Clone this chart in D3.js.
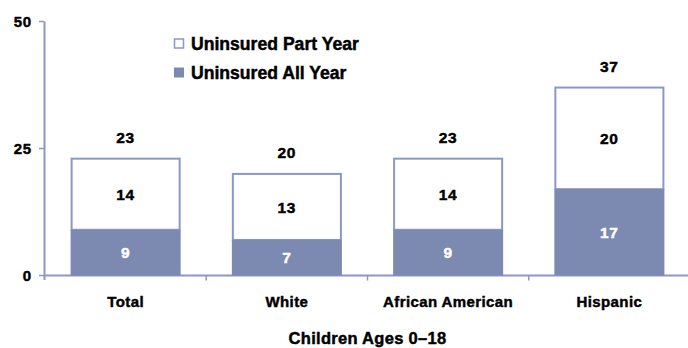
<!DOCTYPE html>
<html><head><meta charset="utf-8">
<script src="https://cdn.jsdelivr.net/npm/d3@7"></script>
<style>body{margin:0;background:#fff}svg{display:block}text{font-family:"Liberation Sans",Arial,sans-serif;font-weight:bold;fill:#000;stroke:#000;stroke-width:0.45px}</style>
</head><body><svg id="c" width="688" height="348"></svg>
<script>
const categories = ["Total","White","African American","Hispanic"];
const allYear = [9,7,9,17];
const partYear = [14,13,14,20];
const totals = [23,20,23,37];
const yTicks = [0,25,50];
const seriesNames = ["Uninsured Part Year","Uninsured All Year"];
const xTitle = "Children Ages 0\u201318";

const dark = "#7c89b0", edge = "#8a98c3";
const svg = d3.select("#c");
const x = d3.scaleBand().domain(categories).range([45,690]).paddingInner(0.33).paddingOuter(0.165);
const y = d3.scaleLinear().domain([0,50]).range([275.5,21.5]);

// axes
svg.append("line").attr("x1",44.5).attr("x2",44.5).attr("y1",y(50)).attr("y2",280).attr("stroke",edge).attr("stroke-width",2);
svg.append("line").attr("x1",44).attr("x2",688).attr("y1",y(0)).attr("y2",y(0)).attr("stroke",edge).attr("stroke-width",2);
yTicks.forEach(t=>{
  svg.append("line").attr("x1",39).attr("x2",44).attr("y1",y(t)).attr("y2",y(t)).attr("stroke",edge).attr("stroke-width",1.5);
  svg.append("text").attr("x",32).attr("y",y(t)).attr("dy","0.36em").attr("text-anchor","end").attr("font-size",15)
    .attr("letter-spacing",0.8).text(t);
});
const step = x.step();
categories.slice(1).forEach(c=>{
  const bx = x(c) - x.paddingInner()*step/2;
  svg.append("line").attr("x1",bx).attr("x2",bx).attr("y1",y(0)).attr("y2",y(0)+5).attr("stroke",edge).attr("stroke-width",1.5);
});

const g = svg.append("g");
function num(xc, yc, v, white){
  g.append("text").attr("x",xc).attr("y",yc).attr("dy","0.36em").attr("text-anchor","middle")
    .attr("font-size",15.5).attr("letter-spacing",0.8)
    .style("fill",white?"#fff":"#000").style("stroke",white?"#fff":"#000").text(v);
}
categories.forEach((c,i)=>{
  const x0 = x(c), w = x.bandwidth(), xc = x0+w/2;
  g.append("rect").attr("x",x0).attr("y",y(totals[i])).attr("width",w).attr("height",y(allYear[i])-y(totals[i]))
    .attr("fill","#fff").attr("stroke",edge).attr("stroke-width",2);
  g.append("rect").attr("x",x0-1).attr("y",y(allYear[i])).attr("width",w+2).attr("height",y(0)-y(allYear[i]))
    .attr("fill",dark);
  num(xc, (y(0)+y(allYear[i]))/2, allYear[i], true);
  num(xc, (y(allYear[i])+y(totals[i]))/2, partYear[i], false);
  num(xc, y(totals[i])-21, totals[i], false);
  g.append("text").attr("x",xc).attr("y",302).attr("dy","0.36em").attr("text-anchor","middle")
    .attr("font-size",15).attr("letter-spacing",0.4).text(c);
});

svg.append("text").attr("x",367.5).attr("y",344).attr("text-anchor","middle").attr("font-size",16.5)
  .attr("letter-spacing",0.3).text(xTitle);

// legend
const leg = [{n:seriesNames[0],fill:"#fff",y:43.5},{n:seriesNames[1],fill:dark,y:72.5}];
leg.forEach(l=>{
  const open = l.fill==="#fff";
  svg.append("rect").attr("x",open?174.5:174).attr("y",open?l.y-4.5:l.y-5).attr("width",open?9:10).attr("height",open?9:10)
    .attr("fill",l.fill).attr("stroke",open?edge:"none").attr("stroke-width",1.5);
  svg.append("text").attr("x",191).attr("y",l.y).attr("dy","0.36em").attr("font-size",17.6).text(l.n);
});
</script></body></html>
